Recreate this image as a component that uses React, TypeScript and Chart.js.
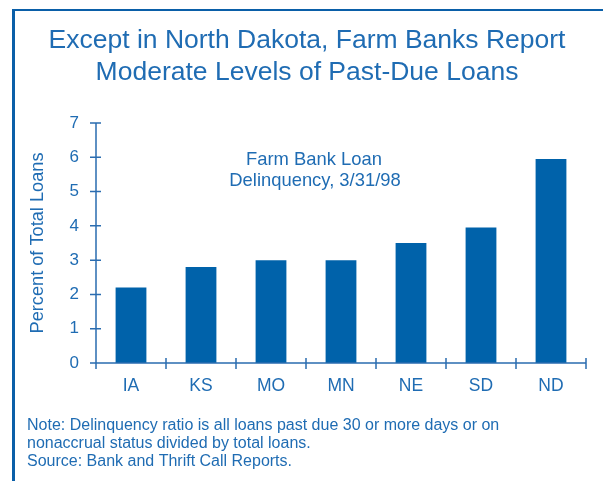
import React, { useEffect, useRef } from "react";
import { Chart, registerables } from "chart.js";

Chart.register(...registerables);

const states = ["IA", "KS", "MO", "MN", "NE", "SD", "ND"];
const delinquency = [2.2, 2.8, 3.0, 3.0, 3.5, 3.95, 5.95];
const yTicks = [0, 1, 2, 3, 4, 5, 6, 7];
const titleLines = ["Except in North Dakota, Farm Banks Report", "Moderate Levels of Past-Due Loans"];
const annotationLines = ["Farm Bank Loan", "Delinquency, 3/31/98"];
const yAxisTitle = "Percent of Total Loans";
const noteLines = [
  "Note: Delinquency ratio is all loans past due 30 or more days or on",
  "nonaccrual status divided by total loans.",
  "Source: Bank and Thrift Call Reports.",
];

const FONT = '"Liberation Sans", Arial, Helvetica, sans-serif';
const TEXT = "#1f6cb3";
const BAR = "#0062aa";
const AXIS = "#2a6cb0";

const decorPlugin = {
  id: "decor",
  afterDraw(chart: any) {
    const ctx = chart.ctx as CanvasRenderingContext2D;
    const x = chart.scales.x;
    const y = chart.scales.y;
    ctx.save();
    // axes
    ctx.strokeStyle = AXIS;
    ctx.lineWidth = 1.5;
    const x0 = x.left;
    const x1 = x.right;
    const yb = y.getPixelForValue(0);
    const yt = y.getPixelForValue(7);
    ctx.beginPath();
    ctx.moveTo(x0, yt);
    ctx.lineTo(x0, yb);
    ctx.moveTo(x0, yb);
    ctx.lineTo(x1, yb);
    yTicks.forEach((v) => {
      const py = y.getPixelForValue(v);
      ctx.moveTo(x0 - 6, py);
      ctx.lineTo(x0 + 5, py);
    });
    const n = states.length;
    for (let i = 0; i <= n; i++) {
      const px = x0 + (i * (x1 - x0)) / n;
      ctx.moveTo(px, yb - 5);
      ctx.lineTo(px, yb + 6);
    }
    ctx.stroke();

    ctx.fillStyle = TEXT;
    // title
    ctx.textAlign = "center";
    ctx.textBaseline = "alphabetic";
    ctx.font = `26.5px ${FONT}`;
    ctx.fillText(titleLines[0], 307, 48);
    ctx.fillText(titleLines[1], 307, 80);
    // annotation
    ctx.font = `18.4px ${FONT}`;
    ctx.fillText(annotationLines[0], 314, 165);
    ctx.fillText(annotationLines[1], 315, 186);
    // y title
    ctx.save();
    ctx.translate(43, 243);
    ctx.rotate(-Math.PI / 2);
    ctx.font = `18.2px ${FONT}`;
    ctx.fillText(yAxisTitle, 0, 0);
    ctx.restore();
    // notes
    ctx.textAlign = "left";
    ctx.font = `16px ${FONT}`;
    ctx.fillText(noteLines[0], 27, 430);
    ctx.fillText(noteLines[1], 27, 448);
    ctx.fillText(noteLines[2], 27, 466);
    ctx.restore();
  },
};

export default function App() {
  const ref = useRef<HTMLCanvasElement | null>(null);
  useEffect(() => {
    if (!ref.current) return;
    const chart = new Chart(ref.current, {
      type: "bar",
      data: {
        labels: states,
        datasets: [
          {
            data: delinquency,
            backgroundColor: BAR,
            borderWidth: 0,
            barPercentage: 0.44,
            categoryPercentage: 1,
          },
        ],
      },
      options: {
        animation: false,
        responsive: false,
        maintainAspectRatio: false,
        devicePixelRatio: 1,
        layout: { padding: { top: 123, left: 0, right: 17, bottom: 88 } },
        plugins: { legend: { display: false }, tooltip: { enabled: false }, title: { display: false } },
        scales: {
          x: {
            grid: { display: false, drawTicks: false },
            border: { display: false },
            ticks: { color: TEXT, font: { size: 17.5, family: FONT }, padding: 13, maxRotation: 0 },
            afterFit: (s: any) => {
              s.height = 30;
            },
          },
          y: {
            min: 0,
            max: 7,
            grid: { display: false, drawTicks: false },
            border: { display: false },
            ticks: { color: TEXT, font: { size: 17, family: FONT }, padding: 17, stepSize: 1 },
            afterFit: (s: any) => {
              s.width = 96;
            },
          },
        },
      },
      plugins: [decorPlugin],
    });
    return () => chart.destroy();
  }, []);
  return (
    <div style={{ position: "absolute", left: 0, top: 0, width: 603, height: 481, background: "#fff", overflow: "hidden" }}>
      <div
        style={{
          position: "absolute",
          left: 12,
          top: 9,
          right: -5,
          bottom: -5,
          borderTop: "2px solid #0a5fa8",
          borderLeft: "3px solid #0a5fa8",
        }}
      />
      <canvas ref={ref} width={603} height={481} style={{ position: "absolute", left: 0, top: 0, width: 603, height: 481 }} />
    </div>
  );
}
